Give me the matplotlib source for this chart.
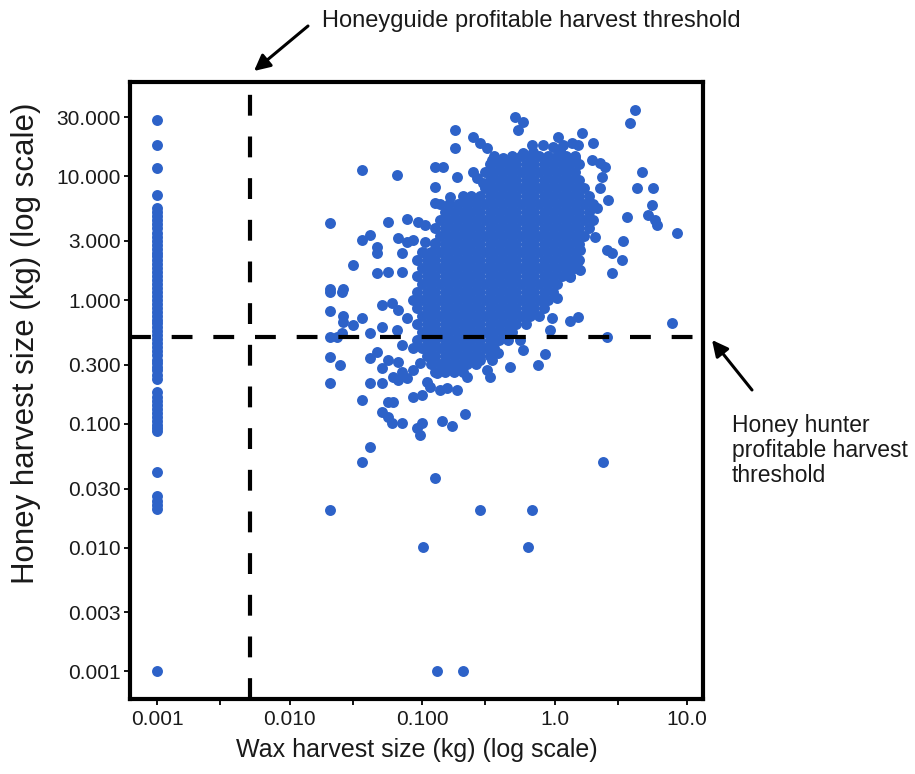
import matplotlib
matplotlib.use("Agg")
import matplotlib.pyplot as plt
from matplotlib.ticker import FixedLocator, FixedFormatter, NullLocator

plt.rcParams['font.family'] = ['Liberation Sans', 'DejaVu Sans']

# ---------------- data ----------------
honeyguide_threshold_wax = 0.005     # kg
hunter_threshold_honey = 0.5         # kg

x_ticks = [0.001, 0.003, 0.01, 0.03, 0.1, 0.3, 1, 3, 10]
x_tick_labels = ["0.001", "", "0.010", "", "0.100", "", "1.0", "", "10.0"]
y_ticks = [30, 10, 3, 1, 0.3, 0.1, 0.03, 0.01, 0.003, 0.001]
y_tick_labels = ["30.000", "10.000", "3.000", "1.000", "0.300", "0.100",
                 "0.030", "0.010", "0.003", "0.001"]

# harvests with the minimum recorded wax (0.001 kg)
min_wax = 0.001
honey_at_min_wax = [28.4, 17.9, 11.6, 7.05, 5.5, 5.1, 4.75, 4.4, 4.1, 3.8, 3.5,
                    3.25, 3.0, 2.8, 2.6, 2.4, 2.25, 2.1, 1.95, 1.8, 1.67, 1.55,
                    1.44, 1.34, 1.24, 1.15, 1.07, 1.0, 0.93, 0.86, 0.8, 0.74,
                    0.69, 0.65, 0.6, 0.56, 0.52, 0.48, 0.45, 0.42, 0.39, 0.36,
                    0.33, 0.31, 0.29, 0.27, 0.25, 0.23, 0.18, 0.165, 0.153,
                    0.142, 0.132, 0.122, 0.113, 0.105, 0.098, 0.092, 0.087,
                    0.041, 0.026, 0.024, 0.022, 0.0205, 0.001]

# individually readable harvests (wax kg, honey kg)
scattered_points = [
    (0.177, 23.6), (0.244, 20.8), (0.274, 18.4), (0.308, 16.8), (0.177, 16.8),
    (0.035, 11.2), (0.065, 10.2), (0.125, 11.9), (0.145, 11.9), (0.183, 9.8),
    (0.244, 10.9), (0.259, 9.6), (0.29, 8.8), (0.336, 13.5), (0.411, 13.95),
    (0.125, 8.23), (0.162, 6.83), (0.125, 6.04),
    (0.0202, 4.16), (0.0556, 4.29), (0.0765, 4.49), (0.0936, 4.29), (0.105, 4.04),
    (0.035, 3.05), (0.0404, 3.35), (0.0454, 2.70), (0.0454, 2.38), (0.0661, 3.15),
    (0.0765, 2.96), (0.0858, 3.05), (0.0702, 2.38), (0.0302, 1.92), (0.105, 2.96),
    (0.105, 2.38), (0.125, 2.87), (0.0454, 1.64), (0.0556, 1.69), (0.0702, 1.69),
    (0.0202, 1.22), (0.0254, 1.22),
    (4.06, 34.2), (3.72, 27.0), (0.507, 30.2), (0.581, 27.6), (0.533, 23.6),
    (1.068, 20.8), (1.605, 22.5), (1.964, 18.4), (0.673, 17.9), (0.823, 17.9),
    (0.979, 17.3), (1.165, 17.9), (1.349, 18.4), (1.513, 17.9), (0.581, 15.3),
    (0.692, 15.8), (1.10, 16.3), (1.428, 13.95), (1.91, 13.5), (2.21, 12.7),
    (2.41, 11.9), (4.56, 10.9), (2.27, 9.9), (2.21, 7.98), (4.18, 7.98),
    (5.58, 7.98), (2.55, 6.43), (5.42, 5.85), (5.11, 4.86), (5.74, 4.43),
    (5.92, 4.04), (3.51, 4.71), (8.38, 3.50), (3.31, 3.01), (2.48, 2.53),
    (2.70, 2.38), (3.22, 2.10), (2.70, 1.64), (2.02, 3.25), (2.08, 5.51),
    (1.56, 2.53), (1.47, 1.98), (1.56, 1.75), (1.31, 1.54),
    (0.0202, 1.167), (0.025, 1.167), (0.0202, 0.82), (0.0251, 0.743),
    (0.0254, 0.668), (0.0302, 0.628), (0.035, 0.712), (0.0202, 0.505),
    (0.0226, 0.50), (0.025, 0.538), (0.0404, 0.538), (0.0495, 0.911),
    (0.059, 0.94), (0.0661, 0.83), (0.0495, 0.609), (0.0643, 0.572),
    (0.0702, 0.433), (0.0765, 0.712), (0.0202, 0.348), (0.024, 0.2985),
    (0.0202, 0.212), (0.0404, 0.338), (0.0454, 0.382), (0.0495, 0.281),
    (0.0556, 0.328), (0.0661, 0.317), (0.0702, 0.2635), (0.0606, 0.24),
    (0.0661, 0.226), (0.0765, 0.233), (0.0404, 0.212), (0.0495, 0.212),
    (0.035, 0.1556), (0.0556, 0.151), (0.0606, 0.151), (0.0858, 0.1655),
    (0.0993, 0.171), (0.0495, 0.1253), (0.0556, 0.114), (0.059, 0.101),
    (0.0702, 0.101), (0.0993, 0.101), (0.091, 0.092), (0.0964, 0.0812),
    (0.1406, 0.106), (0.1673, 0.096), (0.211, 0.12), (0.0404, 0.0653),
    (0.035, 0.0494), (0.1252, 0.0363), (2.34, 0.0494), (7.68, 0.648),
    (2.48, 0.505), (1.513, 0.725), (1.31, 0.681), (0.952, 0.712), (0.925, 0.572),
    (0.848, 0.366), (0.755, 0.2985), (0.461, 0.289), (0.581, 0.395),
    (0.549, 0.475), (0.376, 0.371), (0.3356, 0.328), (0.3076, 0.272),
    (0.3257, 0.24), (0.2735, 0.328), (0.217, 0.24), (0.1877, 0.281),
    (0.1446, 0.289), (0.129, 0.256), (0.1083, 0.219), (0.1365, 0.1875),
    (0.1534, 0.1935), (0.1825, 0.1875), (0.1147, 0.1994), (0.0964, 0.308),
    (0.0858, 0.272), (1.039, 1.032), (0.848, 1.0),
    (0.0202, 0.0201), (0.1016, 0.0101), (0.2735, 0.0201), (0.676, 0.0201),
    (0.63, 0.0101), (0.1296, 0.001), (0.2037, 0.001),
]

# dense core of the cloud, read row by row: honey value of the row ...
core_honey = [14.56, 12.55, 10.81, 9.32, 8.03, 6.92, 5.96, 5.14, 4.43, 3.82,
              3.29, 2.835, 2.443, 2.105, 1.813, 1.563, 1.347, 1.160, 1.000,
              0.862, 0.743, 0.640, 0.551, 0.475, 0.4095, 0.353, 0.304, 0.262]
# ... and the wax values of the harvests in that row
core_wax_rows = [
    [0.349, 0.478, 0.559, 0.653, 0.764, 0.893, 1.04, 1.22, 1.43],
    [0.323, 0.378, 0.442, 0.516, 0.604, 0.706, 0.826, 0.966, 1.13, 1.32, 1.54],
    [0.299, 0.349, 0.408, 0.478, 0.559, 0.653, 0.764, 0.893, 1.04, 1.22, 1.43],
    [0.323, 0.378, 0.442, 0.516, 0.604, 0.706, 0.826, 0.966, 1.13, 1.32, 1.54],
    [0.299, 0.349, 0.408, 0.478, 0.559, 0.653, 0.764, 0.893, 1.04, 1.22, 1.43, 1.67],
    [0.202, 0.236, 0.276, 0.323, 0.378, 0.442, 0.516, 0.604, 0.706, 0.826, 0.966, 1.13, 1.32, 1.54, 1.81],
    [0.137, 0.160, 0.187, 0.218, 0.255, 0.299, 0.349, 0.408, 0.478, 0.559, 0.653, 0.764, 0.893, 1.04, 1.22, 1.43, 1.67, 1.95],
    [0.148, 0.173, 0.202, 0.236, 0.276, 0.323, 0.378, 0.442, 0.516, 0.604, 0.706, 0.826, 0.966, 1.13, 1.32, 1.54, 1.81],
    [0.137, 0.160, 0.187, 0.218, 0.255, 0.299, 0.349, 0.408, 0.478, 0.559, 0.653, 0.764, 0.893, 1.04, 1.22, 1.43, 1.67, 1.95],
    [0.126, 0.148, 0.173, 0.202, 0.236, 0.276, 0.323, 0.378, 0.442, 0.516, 0.604, 0.706, 0.826, 0.966, 1.13, 1.32, 1.54, 1.81],
    [0.137, 0.160, 0.187, 0.218, 0.255, 0.299, 0.349, 0.408, 0.478, 0.559, 0.653, 0.764, 0.893, 1.04, 1.22, 1.43, 1.67],
    [0.126, 0.148, 0.173, 0.202, 0.236, 0.276, 0.323, 0.378, 0.442, 0.516, 0.604, 0.706, 0.826, 0.966, 1.13, 1.32, 1.54],
    [0.0998, 0.117, 0.137, 0.160, 0.187, 0.218, 0.255, 0.299, 0.349, 0.408, 0.478, 0.559, 0.653, 0.764, 0.893, 1.04, 1.22, 1.43],
    [0.0923, 0.108, 0.126, 0.148, 0.173, 0.202, 0.236, 0.276, 0.323, 0.378, 0.442, 0.516, 0.604, 0.706, 0.826, 0.966, 1.13, 1.32, 1.54],
    [0.0998, 0.117, 0.137, 0.160, 0.187, 0.218, 0.255, 0.299, 0.349, 0.408, 0.478, 0.559, 0.653, 0.764, 0.893, 1.04, 1.22, 1.43],
    [0.0923, 0.108, 0.126, 0.148, 0.173, 0.202, 0.236, 0.276, 0.323, 0.378, 0.442, 0.516, 0.604, 0.706, 0.826, 0.966, 1.13, 1.32],
    [0.0998, 0.117, 0.137, 0.160, 0.187, 0.218, 0.255, 0.299, 0.349, 0.408, 0.478, 0.559, 0.653, 0.764, 0.893, 1.04],
    [0.0923, 0.108, 0.126, 0.148, 0.173, 0.202, 0.236, 0.276, 0.323, 0.378, 0.442, 0.516, 0.604, 0.706, 0.826, 0.966],
    [0.0854, 0.0998, 0.117, 0.137, 0.160, 0.187, 0.218, 0.255, 0.299, 0.349, 0.408, 0.478, 0.559, 0.653, 0.764, 0.893],
    [0.0923, 0.108, 0.126, 0.148, 0.173, 0.202, 0.236, 0.276, 0.323, 0.378, 0.442, 0.516, 0.604, 0.706, 0.826],
    [0.0998, 0.117, 0.137, 0.160, 0.187, 0.218, 0.255, 0.299, 0.349, 0.408, 0.478, 0.559, 0.653, 0.764],
    [0.0923, 0.108, 0.126, 0.148, 0.173, 0.202, 0.236, 0.276, 0.323, 0.378, 0.442, 0.516, 0.604],
    [0.0998, 0.117, 0.137, 0.160, 0.187, 0.218, 0.255, 0.299, 0.349, 0.408, 0.478],
    [0.0923, 0.108, 0.126, 0.148, 0.173, 0.202, 0.236, 0.276, 0.323, 0.378, 0.442],
    [0.0854, 0.0998, 0.117, 0.137, 0.160, 0.187, 0.218, 0.255, 0.299, 0.349],
    [0.108, 0.126, 0.148, 0.173, 0.202, 0.236, 0.276, 0.323],
    [0.117, 0.137, 0.160, 0.187, 0.218, 0.255],
    [0.126, 0.148, 0.173, 0.202],
]

x_label = "Wax harvest size (kg) (log scale)"
y_label = "Honey harvest size (kg) (log scale)"
top_note = "Honeyguide profitable harvest threshold"
right_note = ["Honey hunter", "profitable harvest", "threshold"]

# ---------------- figure ----------------
W, H = 915, 774
fig = plt.figure(figsize=(W / 100, H / 100), dpi=100)
ax = fig.add_axes([130 / W, 1 - 698.5 / H, 573 / W, 616.8 / H])
ax.set_xscale('log')
ax.set_yscale('log')
ax.set_xlim(0.000622, 13.23)
ax.set_ylim(0.000604, 58.0)

dot_color = '#2d62c8'
dot_size = 62

ax.scatter([min_wax] * len(honey_at_min_wax), honey_at_min_wax,
           s=dot_size, color=dot_color, linewidths=0, zorder=2)
ax.scatter([p[0] for p in scattered_points], [p[1] for p in scattered_points],
           s=dot_size, color=dot_color, linewidths=0, zorder=2)
core_x, core_y = [], []
for hv, row in zip(core_honey, core_wax_rows):
    core_x.extend(row)
    core_y.extend([hv] * len(row))
ax.scatter(core_x, core_y, s=dot_size, color=dot_color, linewidths=0, zorder=2)

ax.axvline(honeyguide_threshold_wax, color='black', lw=3, ls=(0, (5, 5)), zorder=3)
ax.axhline(hunter_threshold_honey, color='black', lw=3, ls=(0, (5, 5)), zorder=3)

ax.xaxis.set_major_locator(FixedLocator(x_ticks))
ax.xaxis.set_major_formatter(FixedFormatter(x_tick_labels))
ax.xaxis.set_minor_locator(NullLocator())
ax.yaxis.set_major_locator(FixedLocator(y_ticks))
ax.yaxis.set_major_formatter(FixedFormatter(y_tick_labels))
ax.yaxis.set_minor_locator(NullLocator())

for s in ax.spines.values():
    s.set_linewidth(3)
    s.set_color('black')
ax.tick_params(axis='both', which='major', direction='out', length=4.5,
               width=1.3, labelsize=15, labelcolor='#1a1a1a', color='black')
ax.tick_params(axis='x', pad=4)
ax.tick_params(axis='y', pad=2)

fig.text(416.5 / W, 1 - 750 / H, x_label, ha='center', va='center',
         fontsize=18, color='#1a1a1a')
fig.text(26 / W, 1 - 343 / H, y_label, ha='center', va='center',
         rotation=90, fontsize=22.5, color='#1a1a1a')

arrow = dict(arrowstyle='-|>', color='black', lw=2.2, mutation_scale=24,
             shrinkA=0, shrinkB=0)
ax.annotate('', xy=(254, H - 71), xycoords='figure pixels',
            xytext=(308, H - 26), textcoords='figure pixels', arrowprops=arrow)
ax.annotate('', xy=(712, H - 340), xycoords='figure pixels',
            xytext=(752, H - 390), textcoords='figure pixels', arrowprops=arrow)

fig.text(322 / W, 1 - 27 / H, top_note, ha='left', va='baseline',
         fontsize=17, color='#1a1a1a')
for i, line in enumerate(right_note):
    fig.text(732 / W, 1 - (432 + 25 * i) / H, line, ha='left', va='baseline',
             fontsize=16.5, color='#1a1a1a')

fig.savefig('out.png', dpi=100)
